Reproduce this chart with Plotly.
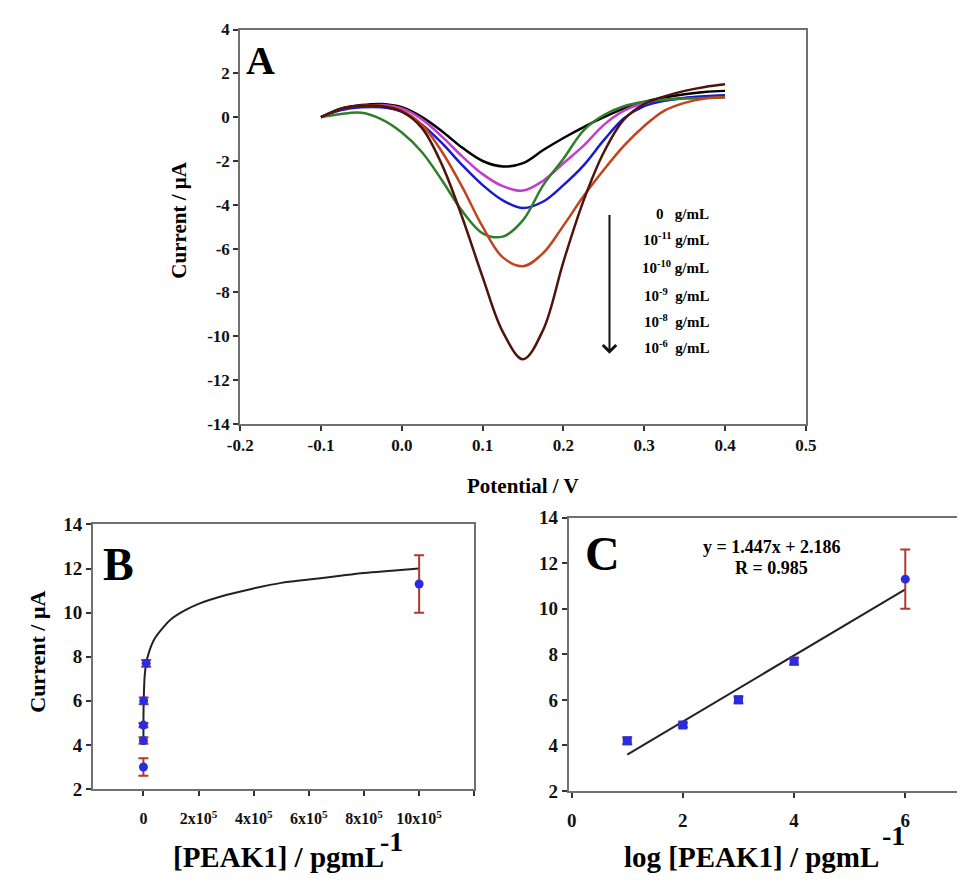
import plotly.graph_objects as go

W, H = 968, 883
FONT = "Liberation Serif, Times New Roman, serif"

# ---- panel A: DPV curves ----
potential = [-0.1, -0.075, -0.05, -0.025, 0.0, 0.025, 0.05, 0.075, 0.1, 0.125, 0.15,
             0.175, 0.2, 0.225, 0.25, 0.275, 0.3, 0.325, 0.35, 0.375, 0.4]
cur_0 = [0.0, 0.4, 0.55, 0.6, 0.45, 0.0, -0.65, -1.4, -2.0, -2.25, -2.1,
         -1.5, -0.95, -0.45, 0.0, 0.4, 0.7, 0.9, 1.05, 1.15, 1.2]
cur_11 = [0.0, 0.35, 0.5, 0.55, 0.4, -0.1, -0.9, -1.8, -2.6, -3.15, -3.35,
          -2.9, -2.1, -1.3, -0.35, 0.3, 0.65, 0.8, 0.88, 0.93, 0.95]
cur_10 = [0.0, 0.32, 0.45, 0.45, 0.25, -0.35, -1.2, -2.2, -3.1, -3.8, -4.15,
          -3.85, -3.1, -2.2, -1.05, -0.05, 0.5, 0.75, 0.88, 0.95, 1.0]
cur_9 = [0.0, 0.15, 0.2, -0.1, -0.7, -1.6, -2.9, -4.3, -5.3, -5.45, -4.7,
         -3.1, -1.9, -0.6, 0.1, 0.5, 0.7, 0.8, 0.85, 0.88, 0.9]
cur_8 = [0.0, 0.38, 0.52, 0.52, 0.3, -0.35, -1.6, -3.2, -5.0, -6.4, -6.8,
         -6.2, -4.95, -3.6, -2.4, -1.3, -0.4, 0.3, 0.65, 0.85, 0.92]
cur_6 = [0.0, 0.38, 0.52, 0.5, 0.25, -0.5, -2.2, -4.6, -7.3, -9.8, -11.05,
         -9.7, -6.6, -3.8, -1.6, -0.1, 0.6, 0.95, 1.2, 1.38, 1.5]
curves = [cur_0, cur_11, cur_10, cur_9, cur_8, cur_6]
curve_colors = ["#000000", "#c23ccf", "#1a1ad0", "#2f7f2a", "#c2441e", "#4e140c"]
conc_labels = ["0   g/mL", "10<sup>-11</sup> g/mL", "10<sup>-10</sup> g/mL",
               "10<sup>-9</sup>  g/mL", "10<sup>-8</sup>  g/mL", "10<sup>-6</sup>  g/mL"]
a_xticks = [-0.2, -0.1, 0.0, 0.1, 0.2, 0.3, 0.4, 0.5]
a_xlabels = ["-0.2", "-0.1", "0.0", "0.1", "0.2", "0.3", "0.4", "0.5"]
a_yticks = [4, 2, 0, -2, -4, -6, -8, -10, -12, -14]
a_ylabels = ["4", "2", "0", "-2", "-4", "-6", "-8", "-10", "-12", "-14"]

# ---- panel B: calibration, linear axis ----
conc_b = [0, 10, 100, 1000, 10000, 1000000]
peak_b = [3.0, 4.2, 4.9, 6.0, 7.7, 11.3]
err_b = [0.4, 0.15, 0.1, 0.15, 0.15, 1.3]
fit_b_x = [10, 100, 1000, 5000, 10000, 20000, 40000, 70000, 100000, 150000, 200000,
           300000, 400000, 500000, 600000, 700000, 800000, 900000, 1000000]
fit_b_y = [4.0, 4.9, 6.0, 7.2, 7.7, 8.2, 8.8, 9.3, 9.7, 10.1, 10.4,
           10.8, 11.1, 11.35, 11.5, 11.65, 11.8, 11.9, 12.0]
ticks_b = [0, 200000, 400000, 600000, 800000, 1000000, 1200000]
ticklabels_b = ["0", "2x10<sup>5</sup>", "4x10<sup>5</sup>", "6x10<sup>5</sup>",
                "8x10<sup>5</sup>", "10x10<sup>5</sup>", ""]
current_ticks = [2, 4, 6, 8, 10, 12, 14]
current_labels = ["2", "4", "6", "8", "10", "12", "14"]

# ---- panel C: calibration, log axis ----
log_c = [1, 2, 3, 4, 6]
peak_c = [4.2, 4.9, 6.0, 7.7, 11.3]
err_c = [0.15, 0.1, 0.15, 0.15, 1.3]
fit_c_x = [1, 6]
fit_c_y = [3.6, 10.85]
c_xticks = [0, 2, 4, 6]
c_xlabels = ["0", "2", "4", "6"]


def px(x):
    return x / W


def py(y):
    return 1 - y / H


def bold(labels):
    return ["<b>%s</b>" % s if s else "" for s in labels]


fig = go.Figure()

for ys, col in zip(curves, curve_colors):
    fig.add_trace(go.Scatter(x=potential, y=ys, mode="lines", line=dict(color=col, width=2.5, shape="spline"),
                             xaxis="x", yaxis="y", showlegend=False))

fig.add_trace(go.Scatter(x=fit_b_x, y=fit_b_y, mode="lines", line=dict(color="#222", width=2, shape="spline"),
                         xaxis="x2", yaxis="y2", showlegend=False))
fig.add_trace(go.Scatter(x=conc_b, y=peak_b, mode="markers",
                         marker=dict(color="#2b2be0", size=9),
                         error_y=dict(type="data", array=err_b, color="#b0392c", thickness=2, width=5),
                         xaxis="x2", yaxis="y2", showlegend=False))

fig.add_trace(go.Scatter(x=fit_c_x, y=fit_c_y, mode="lines", line=dict(color="#222", width=2),
                         xaxis="x3", yaxis="y3", showlegend=False))
fig.add_trace(go.Scatter(x=log_c, y=peak_c, mode="markers",
                         marker=dict(color="#2b2be0", size=9, symbol=["square", "square", "square", "square", "circle"]),
                         error_y=dict(type="data", array=err_c, color="#b0392c", thickness=2, width=5),
                         xaxis="x3", yaxis="y3", showlegend=False))

axis_common = dict(showgrid=False, zeroline=False, showline=True, linecolor="#707070", linewidth=2,
                   ticks="outside", ticklen=5, tickwidth=2, tickcolor="#333",
                   tickfont=dict(family=FONT, size=17, color="#111"))
big_tick = dict(family=FONT, size=19, color="#111")

fig.update_layout(
    width=W, height=H, margin=dict(l=0, r=0, t=0, b=0),
    paper_bgcolor="white", plot_bgcolor="white",
    font=dict(family=FONT, color="#111"),
    xaxis=dict(axis_common, domain=[px(233), px(813)], range=[-0.2, 0.5],
               tickvals=a_xticks, ticktext=bold(a_xlabels), mirror=True, anchor="y"),
    yaxis=dict(axis_common, domain=[py(424), py(20)], range=[-14, 4],
               tickvals=a_yticks, ticktext=bold(a_ylabels), mirror=True, anchor="x"),
    xaxis2=dict(axis_common, domain=[px(82), px(473)], range=[-183000, 1200000],
                tickvals=ticks_b, ticktext=bold(ticklabels_b), mirror=True, anchor="y2",
                ticklabelstandoff=9, tickfont=dict(family=FONT, size=16, color="#111")),
    yaxis2=dict(axis_common, domain=[py(798), py(527)], range=[2, 14], mirror=True, anchor="x2",
                tickvals=current_ticks, ticktext=bold(current_labels), tickfont=big_tick),
    xaxis3=dict(axis_common, domain=[px(570), 1.0], range=[-0.05, 6.93],
                tickvals=c_xticks, ticktext=bold(c_xlabels), mirror=True, anchor="y3",
                ticklabelstandoff=6, tickfont=big_tick),
    yaxis3=dict(axis_common, domain=[py(800), py(520)], range=[2, 14], mirror=False, anchor="x3",
                tickvals=current_ticks, ticktext=bold(current_labels), tickfont=big_tick),
)

ann = []


def text(x, y, s, size, xanchor="center", yanchor="middle", angle=0, xref="paper", yref="paper"):
    ann.append(dict(x=x, y=y, xref=xref, yref=yref, text="<b>%s</b>" % s, showarrow=False,
                    xanchor=xanchor, yanchor=yanchor, textangle=angle,
                    font=dict(family=FONT, size=size, color="#000")))


# panel letters
text(px(254), py(52), "A", 40)
text(px(108), py(568), "B", 46)
text(px(604), py(557), "C", 48)

# axis titles
text(px(170), py(215), "Current / μA", 21, angle=-90)
text(px(523), py(488), "Potential / V", 21)
text(px(25), py(657), "Current / μA", 22, angle=-90)
text(px(272), py(868), "[PEAK1] / pgmL", 29)
text(px(388), py(852), "-1", 28)
text(px(757), py(868), "log [PEAK1] / pgmL", 29)
text(px(903), py(846), "-1", 28)

# regression text
text(px(778), py(550), "y = 1.447x + 2.186", 18)
text(px(778), py(572), "R = 0.985", 18)

# concentration labels of panel A
label_rows = [209, 235, 263, 292, 319, 345]
for lab, row in zip(conc_labels, label_rows):
    text(px(716), py(row), lab, 15, xanchor="right")

# arrow
ann.append(dict(x=0.257, y=-10.8, ax=0.257, ay=-4.4, xref="x", yref="y", axref="x", ayref="y",
                showarrow=True, arrowhead=4, arrowsize=1.3, arrowwidth=2, arrowcolor="#111", text=""))

fig.update_layout(annotations=ann)

fig.write_html("out.html", config={"displayModeBar": False},
               post_script="document.body.style.margin='0';")
